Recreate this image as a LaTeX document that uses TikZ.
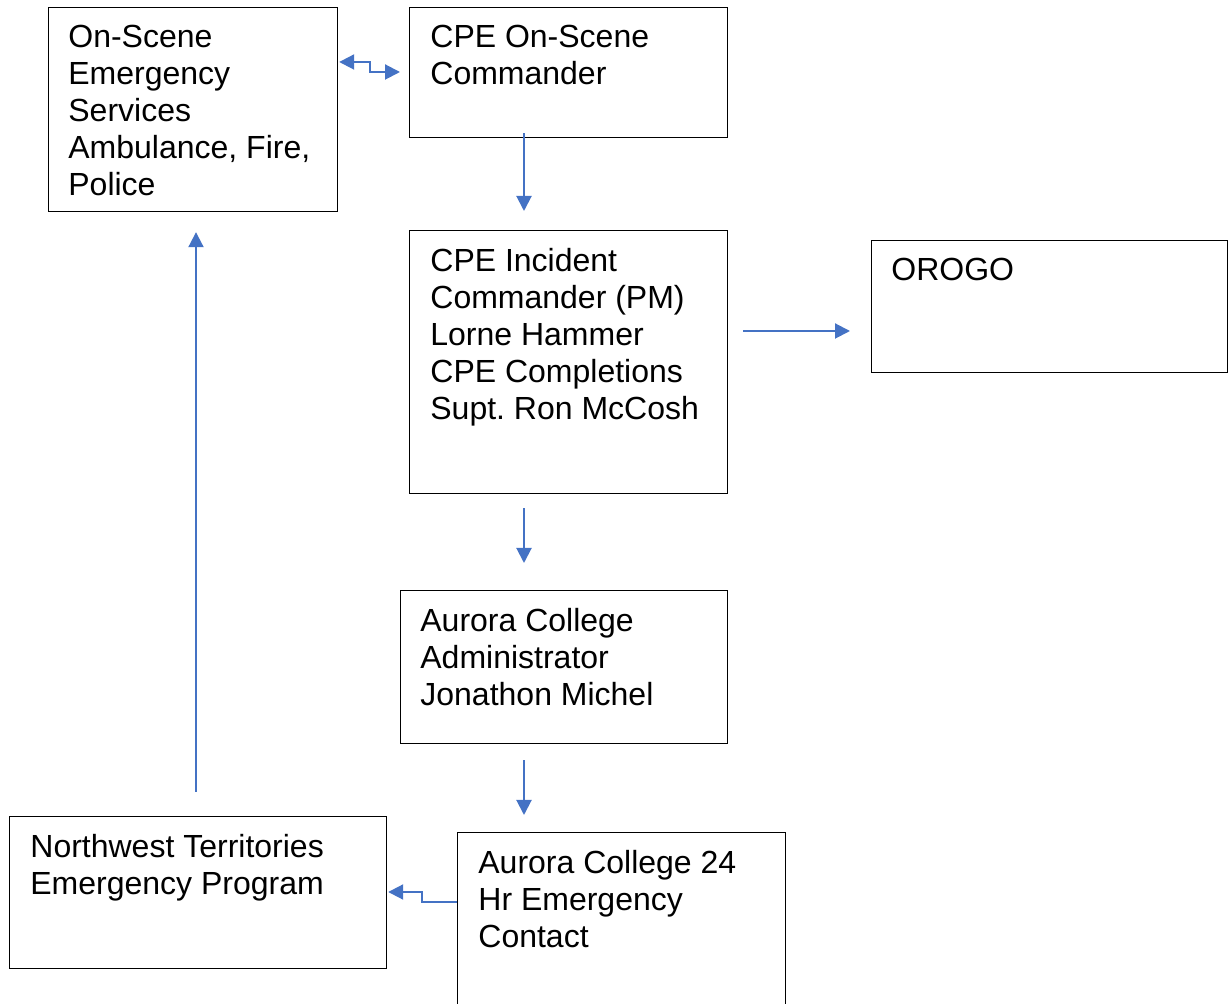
\documentclass[tikz,border=0pt]{standalone}
\usepackage{fontspec}
\setmainfont{Liberation Sans}
\usetikzlibrary{arrows.meta, calc}
\definecolor{linkblue}{HTML}{4472C4}
\frenchspacing
\tikzset{
  box/.style={draw=black, line width=0.6pt, fill=none, inner sep=0pt, anchor=north west},
  txt/.style={inner sep=0pt, anchor=north west, align=left,
    font={\fontsize{16}{18.5}\selectfont}},
  arr/.style={draw=linkblue, line width=1pt, -{Triangle[length=7.5pt, width=7.5pt]}},
  dblarr/.style={draw=linkblue, line width=1pt,
    {Triangle[length=7.5pt, width=7.5pt]}-{Triangle[length=7.5pt, width=7.5pt]}}
}
\begin{document}
\begin{tikzpicture}[x=0.5pt, y=-0.5pt]
  \useasboundingbox (0,0) rectangle (1232,1004);
  \clip (0,0) rectangle (1232,1004);
  % boxes
  \node[box, minimum width=144.5pt, minimum height=102pt] (scene) at (48,7) {};
  \node[box, minimum width=159pt, minimum height=65pt] (cmd) at (409,7) {};
  \node[box, minimum width=159pt, minimum height=131.5pt] (inc) at (409,230) {};
  \node[box, minimum width=178pt, minimum height=66pt] (orogo) at (871,240) {};
  \node[box, minimum width=163.5pt, minimum height=76.5pt] (admin) at (400,590) {};
  \node[box, minimum width=188.5pt, minimum height=76pt] (nwt) at (9,816) {};
  \node[box, minimum width=164pt, minimum height=95pt] (hotline) at (457,832) {};
  % texts
  \node[txt] (scene-t) at ($(scene.north west)+(20,18)$)
    {On-Scene\\Emergency\\Services\\Ambulance, Fire,\\Police};
  \node[txt] (cmd-t) at ($(cmd.north west)+(21,18)$) {CPE On-Scene\\Commander};
  \node[txt] (inc-t) at ($(inc.north west)+(21,18)$)
    {CPE Incident\\Commander (PM)\\Lorne Hammer\\CPE Completions\\Supt. Ron McCosh};
  \node[txt] (orogo-t) at ($(orogo.north west)+(20,18)$) {OROGO};
  \node[txt] (admin-t) at ($(admin.north west)+(20,18)$)
    {Aurora College\\Administrator\\Jonathon Michel};
  \node[txt] (nwt-t) at ($(nwt.north west)+(21,18)$)
    {Northwest Territories\\Emergency Program};
  \node[txt] (hotline-t) at ($(hotline.north west)+(21,18)$)
    {Aurora College 24\\Hr Emergency\\Contact};
  % connectors
  \draw[dblarr] ($(scene.north east)+(1,55)$) -- ++(31,0) -- ++(0,10)
    -- ($(cmd.north west)+(-9,65)$);
  \draw[arr] ($(cmd.south west)+(115,-5)$) -- ($(inc.north west)+(115,-19)$);
  \draw[arr] ($(inc.north east)+(15,101)$) -- ($(orogo.north west)+(-21,91)$);
  \draw[arr] ($(inc.south west)+(115,14)$) -- ($(admin.north west)+(124,-27)$);
  \draw[arr] ($(admin.south west)+(124,16)$) -- ($(hotline.north west)+(67,-17)$);
  \draw[arr] ($(hotline.north west)+(0,70)$) -- ++(-35,0) -- ++(0,-10)
    -- ($(nwt.north east)+(1,76)$);
  \draw[arr] ($(nwt.north west)+(187,-24)$) -- ($(scene.south west)+(148,20)$);
\end{tikzpicture}
\end{document}
